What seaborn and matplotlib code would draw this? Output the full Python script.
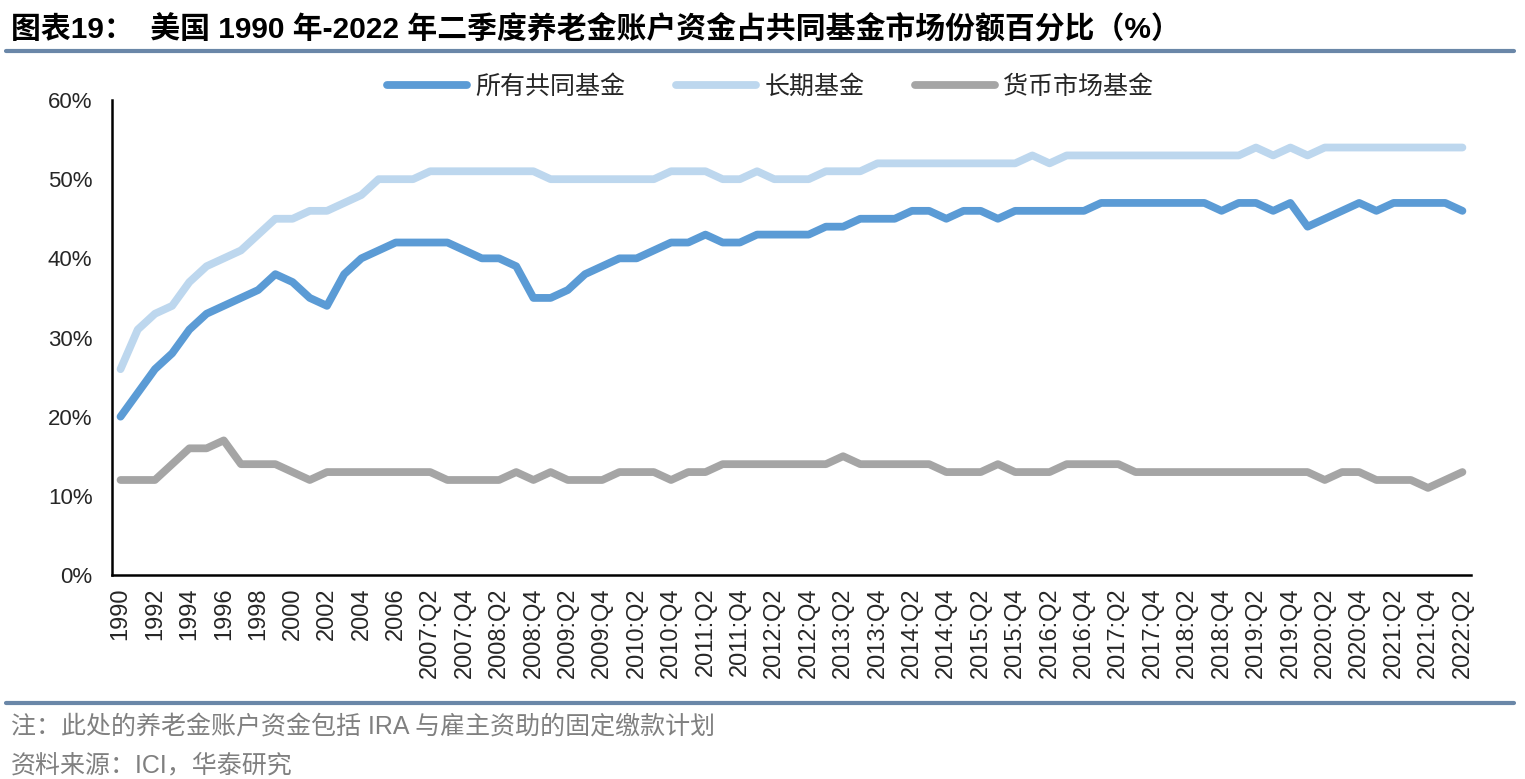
import numpy as np
import pandas as pd
import matplotlib
matplotlib.use('Agg')
import matplotlib.pyplot as plt
import seaborn as sns
from matplotlib.lines import Line2D
from matplotlib.ticker import PercentFormatter

# x categories: annual 1990-2006, then quarterly 2007:Q1 - 2022:Q2
years = [str(y) for y in range(1990, 2007)]
quarters = [f'{y}:Q{q}' for y in range(2007, 2023) for q in range(1, 5)][:62]
periods = years + quarters

all_funds = [20, 23, 26, 28, 31, 33, 34, 35, 36, 38, 37, 35, 34, 38, 40, 41, 42,
             42, 42, 42, 41, 40, 40, 39, 35, 35, 36, 38, 39, 40, 40, 41, 42, 42, 43, 42, 42, 43, 43, 43,
             43, 44, 44, 45, 45, 45, 46, 46, 45, 46, 46, 45, 46, 46, 46, 46, 46, 47, 47, 47,
             47, 47, 47, 47, 46, 47, 47, 46, 47, 44, 45, 46, 47, 46, 47, 47, 47, 47, 46]
long_term = [26, 31, 33, 34, 37, 39, 40, 41, 43, 45, 45, 46, 46, 47, 48, 50, 50,
             50, 51, 51, 51, 51, 51, 51, 51, 50, 50, 50, 50, 50, 50, 50, 51, 51, 51, 50, 50, 51, 50, 50,
             50, 51, 51, 51, 52, 52, 52, 52, 52, 52, 52, 52, 52, 53, 52, 53, 53, 53, 53, 53,
             53, 53, 53, 53, 53, 53, 54, 53, 54, 53, 54, 54, 54, 54, 54, 54, 54, 54, 54]
money_market = [12, 12, 12, 14, 16, 16, 17, 14, 14, 14, 13, 12, 13, 13, 13, 13, 13,
                13, 13, 12, 12, 12, 12, 13, 12, 13, 12, 12, 12, 13, 13, 13, 12, 13, 13, 14, 14, 14, 14, 14,
                14, 14, 15, 14, 14, 14, 14, 14, 13, 13, 13, 14, 13, 13, 13, 14, 14, 14, 14, 13,
                13, 13, 13, 13, 13, 13, 13, 13, 13, 13, 12, 13, 13, 12, 12, 12, 11, 12, 13]

series_names = ['所有共同基金', '长期基金', '货币市场基金']
colors = ['#5B9BD5', '#BDD7EE', '#A5A5A5']

idx = np.arange(len(periods))
df = pd.DataFrame({'idx': idx, series_names[0]: all_funds,
                   series_names[1]: long_term, series_names[2]: money_market})
df = df.melt(id_vars='idx', var_name='series', value_name='value')
df['value'] = df['value'] / 100

sns.set_style('white')
plt.rcParams['font.family'] = ['Liberation Sans', 'Noto Sans CJK SC', 'DejaVu Sans']

fig = plt.figure(figsize=(15.25, 7.79), dpi=100)
ax = fig.add_axes([0.0734, 0.2619, 0.8912, 0.6097])
sns.lineplot(data=df, x='idx', y='value', hue='series', hue_order=series_names,
             palette=colors, linewidth=5.6, ax=ax, solid_capstyle='round',
             solid_joinstyle='round')

ax.set_xlim(-0.5, len(periods) - 0.5)
ax.set_ylim(0, 0.6)
ax.yaxis.set_major_formatter(PercentFormatter(1.0, decimals=0))
ax.set_yticks(np.arange(0, 0.61, 0.1))
ax.set_xticks(idx[::2])
ax.set_xticklabels(periods[::2], rotation=90, fontsize=17)
ax.set_xticks(np.arange(-0.5, len(periods), 1), minor=True)
ax.tick_params(axis='x', which='major', length=0, pad=9)
ax.tick_params(axis='x', which='minor', length=6, width=1.5, direction='out', color='black')
ax.tick_params(axis='y', length=6, width=1.5, direction='out', color='black', labelsize=16, pad=8)
ax.set_xlabel('')
ax.set_ylabel('')
for s in ['top', 'right']:
    ax.spines[s].set_visible(False)
for s in ['left', 'bottom']:
    ax.spines[s].set_color('black')
    ax.spines[s].set_linewidth(1.8)
ax.grid(False)

handles = [Line2D([0], [0], color=c, lw=5.6, solid_capstyle='round') for c in colors]
ax.legend(handles, series_names, loc='center', bbox_to_anchor=(0.505, 0.888),
          bbox_transform=fig.transFigure, ncol=3, frameon=False, fontsize=18,
          handlelength=3.2, columnspacing=2.0, handletextpad=0.35)

fig.text(0.007, 0.962, '图表19：  美国 1990 年-2022 年二季度养老金账户资金占共同基金市场份额百分比（%）',
         fontsize=21.5, fontweight='bold', va='center', ha='left', color='black')
rule = '#6A87A8'
fig.add_artist(Line2D([0.004, 0.993], [0.935, 0.935], color=rule, lw=3, transform=fig.transFigure))
fig.add_artist(Line2D([0.004, 0.993], [0.097, 0.097], color=rule, lw=3, transform=fig.transFigure))
fig.text(0.007, 0.066, '注：此处的养老金账户资金包括 IRA 与雇主资助的固定缴款计划',
         fontsize=18, color='#808080', va='center', ha='left')
fig.text(0.007, 0.018, '资料来源：ICI，华泰研究',
         fontsize=18, color='#808080', va='center', ha='left')

fig.savefig('out.png', dpi=100)
